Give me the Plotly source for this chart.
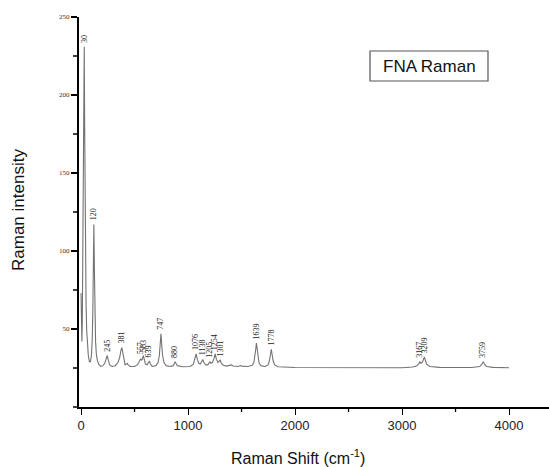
import plotly.graph_objects as go

# Raman spectrum of FNA, traced as (shift, intensity) pairs
shift_cm = [0, 4, 8, 12, 16, 19, 22, 26, 30, 34, 38, 42, 47, 53, 60, 68, 78, 88, 97, 104,
            110, 115, 120, 125, 130, 136, 143, 152, 165, 185, 205, 222, 235, 245, 255, 268,
            290, 320, 345, 362, 372, 381, 390, 400, 412, 425, 432, 440, 460, 500, 525, 540,
            550, 557, 564, 572, 583, 592, 602, 618, 630, 639, 648, 665, 700, 720, 732, 740,
            747, 754, 762, 775, 795, 830, 862, 873, 880, 887, 900, 950, 1020, 1050, 1065,
            1076, 1087, 1100, 1115, 1128, 1138, 1148, 1165, 1185, 1197, 1205, 1214, 1228,
            1242, 1254, 1265, 1280, 1292, 1301, 1312, 1330, 1360, 1390, 1405, 1420, 1470,
            1490, 1505, 1560, 1600, 1615, 1625, 1633, 1639, 1645, 1653, 1663, 1680, 1720,
            1748, 1760, 1770, 1778, 1786, 1796, 1810, 1840, 2000, 2500, 3000, 3100, 3140,
            3157, 3167, 3177, 3190, 3200, 3209, 3218, 3230, 3260, 3350, 3650, 3725, 3745,
            3759, 3772, 3790, 3850, 4000]
intensity = [73, 45, 42, 55, 95, 160, 128, 170, 231, 180, 128, 92, 66, 49, 39, 33, 29, 29, 33, 42,
             60, 88, 117, 88, 60, 42, 34, 30, 27.5, 26, 26.5, 28, 31, 33, 30, 27,
             26, 26.5, 28.5, 32, 36, 38, 35, 30, 27, 27.5, 28, 27, 26, 26, 27, 28.5,
             30, 31, 30, 30.5, 33, 30, 27.5, 27, 28.5, 29.5, 27.5, 26, 26.5, 28.5, 33, 40,
             47, 40, 33, 28.5, 26.5, 26, 26.5, 28, 29, 28, 26.5, 25.8, 26, 27.5, 30.5,
             34, 30.5, 28, 27.5, 29, 30.5, 28.5, 27, 27, 28, 29, 28, 28.5,
             31, 34, 30.5, 28.5, 29.5, 30, 28, 26.8, 26.2, 26.5, 27, 26.3, 26,
             26.6, 26.2, 26, 26.8, 28.5, 32, 37, 41, 37, 32, 28.5, 26.5, 26,
             27, 29.5, 33.5, 37, 33.5, 29.5, 27, 25.8, 25.3, 25.1, 25.2, 25.6, 26.5,
             27.8, 29, 28, 28.8, 30.5, 32, 30, 27.5, 26, 25.4, 25.3, 25.9, 27.3,
             29, 27.3, 26, 25.4, 25.2]

# labelled band positions (cm-1)
peak_labels = [30, 120, 245, 381, 557, 583, 639, 747, 880, 1076, 1138, 1205, 1254,
               1301, 1639, 1778, 3167, 3209, 3759]

x_ticks = [0, 1000, 2000, 3000, 4000]
x_minor = [500, 1500, 2500, 3500]
y_ticks = [50, 100, 150, 200, 250]
y_minor = [0, 25, 75, 125, 175, 225]

W, H = 549, 467
L, R, T, B = 79, 0, 17, 60
pw, ph = W - L - R, H - T - B
x_range = [-19, -19 + pw / 0.107]
y_range = [0, 250]

fig = go.Figure()
fig.add_trace(go.Scatter(x=shift_cm, y=intensity, mode="lines",
                         line=dict(color="#737373", width=1.1), hoverinfo="skip"))

lookup = dict(zip(shift_cm, intensity))
for p in peak_labels:
    fig.add_annotation(x=p, y=lookup[p], text=str(p), showarrow=False,
                       textangle=-90, xanchor="center", yanchor="bottom", yshift=2,
                       font=dict(family="Liberation Serif", size=8, color="#222"))

# unlabelled tick marks, drawn as short strokes outside the plotting area
# (paper references so they are not clipped)
def frac(v, r):
    return (v - r[0]) / (r[1] - r[0])

for v in y_minor:
    yf = frac(v, y_range)
    fig.add_shape(type="line", xref="paper", yref="paper", xsizemode="pixel", xanchor=0,
                  x0=-6, x1=0, y0=yf, y1=yf, line=dict(color="black", width=1.5))
for v in x_minor:
    xf = frac(v, x_range)
    fig.add_shape(type="line", xref="paper", yref="paper", ysizemode="pixel", yanchor=0,
                  x0=xf, x1=xf, y0=-5, y1=0, line=dict(color="black", width=1.3))

def px_x(px):
    return (px - L) / pw

def px_y(py):
    return (H - B - py) / ph

# axis titles
fig.add_annotation(xref="paper", yref="paper", x=px_x(18), y=px_y(210),
                   text="Raman intensity", textangle=-90, showarrow=False,
                   xanchor="center", yanchor="middle",
                   font=dict(family="Liberation Sans", size=17, color="#111"))
fig.add_annotation(xref="paper", yref="paper", x=px_x(298), y=px_y(457),
                   text="Raman Shift (cm<sup>-1</sup>)", showarrow=False,
                   xanchor="center", yanchor="middle",
                   font=dict(family="Liberation Sans", size=16, color="#111"))

# legend box
fig.add_shape(type="rect", xref="paper", yref="paper",
              x0=px_x(370), x1=px_x(488), y0=px_y(81), y1=px_y(51),
              line=dict(color="#555", width=1.2), fillcolor="white")
fig.add_annotation(xref="paper", yref="paper", x=px_x(429), y=px_y(66),
                   text="FNA Raman", showarrow=False, xanchor="center", yanchor="middle",
                   font=dict(family="Liberation Sans", size=17, color="#111"))

fig.update_xaxes(range=x_range, showline=True, linecolor="black", linewidth=1.5,
                 ticks="outside", ticklen=6, tickwidth=1.3, tickcolor="black",
                 tickmode="array", tickvals=x_ticks, showgrid=False, zeroline=False,
                 tickfont=dict(family="Liberation Sans", size=13, color="#222"))
fig.update_yaxes(range=y_range, showline=True, linecolor="black", linewidth=2,
                 ticks="outside", ticklen=6, tickwidth=1.5, tickcolor="black",
                 tickmode="array", tickvals=y_ticks, showgrid=False, zeroline=False,
                 tickfont=dict(family="Liberation Serif", size=7, color="#333"))

fig.update_layout(width=W, height=H, margin=dict(l=L, r=R, t=T, b=B),
                  paper_bgcolor="white", plot_bgcolor="white", showlegend=False)

fig.write_html("out.html")
